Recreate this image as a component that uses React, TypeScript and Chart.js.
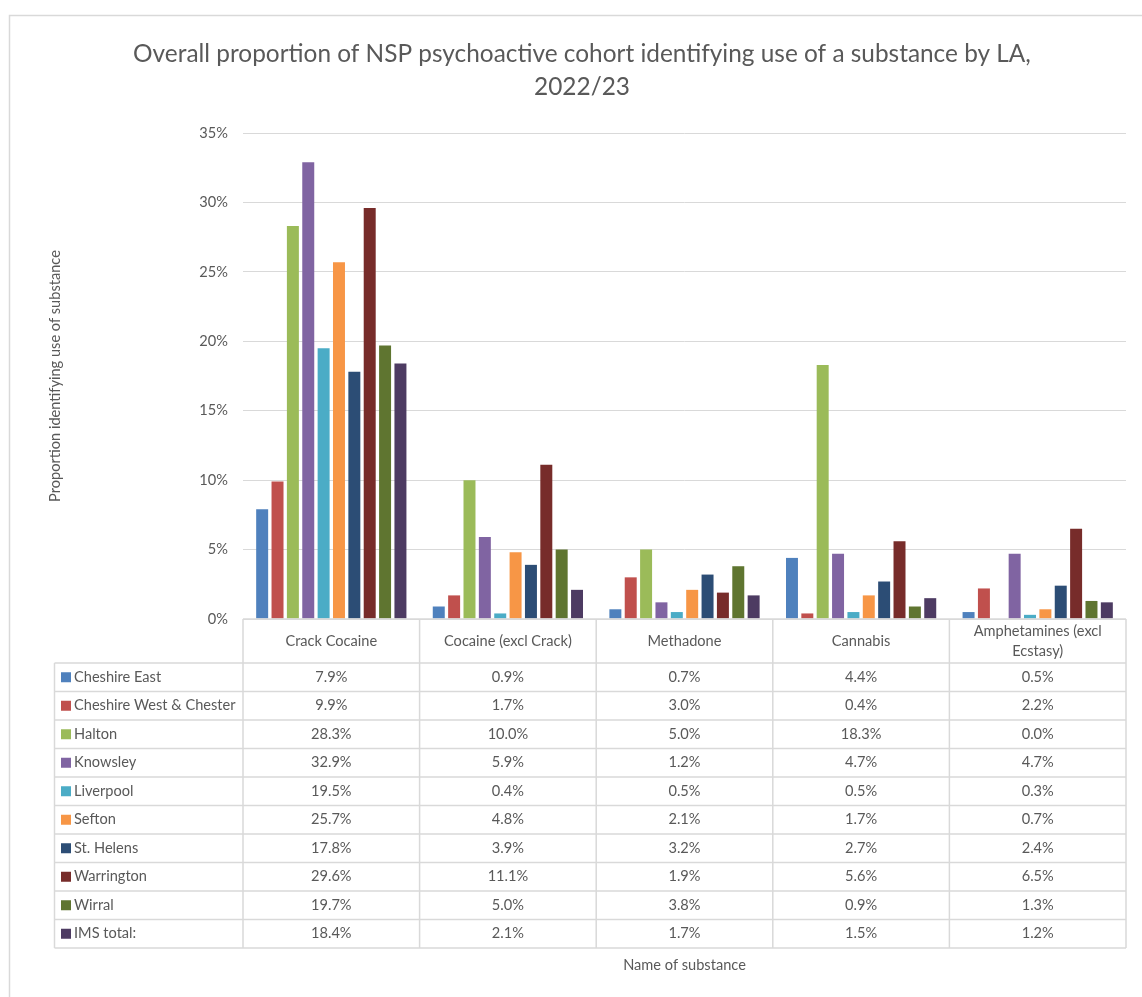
import React, { useEffect, useRef } from "react";
import { Chart, registerables } from "chart.js";

Chart.register(...registerables);

const titleLines = [
  "Overall proportion of NSP psychoactive cohort identifying use of a substance by LA,",
  "2022/23",
];
const categories = [
  "Crack Cocaine",
  "Cocaine (excl Crack)",
  "Methadone",
  "Cannabis",
  "Amphetamines (excl Ecstasy)",
];
const categoryHeaderLines = [
  ["Crack Cocaine"],
  ["Cocaine (excl Crack)"],
  ["Methadone"],
  ["Cannabis"],
  ["Amphetamines (excl", "Ecstasy)"],
];
const seriesNames = [
  "Cheshire East",
  "Cheshire West & Chester",
  "Halton",
  "Knowsley",
  "Liverpool",
  "Sefton",
  "St. Helens",
  "Warrington",
  "Wirral",
  "IMS total:",
];
const seriesColors = [
  "#4F81BD",
  "#C0504D",
  "#9BBB59",
  "#8064A2",
  "#4BACC6",
  "#F79646",
  "#2C4D75",
  "#772C2A",
  "#5F7530",
  "#4D3B62",
];
const cheshireEast = [7.9, 0.9, 0.7, 4.4, 0.5];
const cheshireWest = [9.9, 1.7, 3.0, 0.4, 2.2];
const halton = [28.3, 10.0, 5.0, 18.3, 0.0];
const knowsley = [32.9, 5.9, 1.2, 4.7, 4.7];
const liverpool = [19.5, 0.4, 0.5, 0.5, 0.3];
const sefton = [25.7, 4.8, 2.1, 1.7, 0.7];
const stHelens = [17.8, 3.9, 3.2, 2.7, 2.4];
const warrington = [29.6, 11.1, 1.9, 5.6, 6.5];
const wirral = [19.7, 5.0, 3.8, 0.9, 1.3];
const imsTotal = [18.4, 2.1, 1.7, 1.5, 1.2];
const seriesValues = [
  cheshireEast,
  cheshireWest,
  halton,
  knowsley,
  liverpool,
  sefton,
  stHelens,
  warrington,
  wirral,
  imsTotal,
];
const yMin = 0;
const yMax = 35;
const yStep = 5;
const yTitle = "Proportion identifying use of substance";
const xTitle = "Name of substance";

const FONT = "Lato, 'Open Sans', sans-serif";
const TEXT = "#595959";
const LINE = "#d9d9d9";
const SMALL = 14.6;

const decorPlugin = {
  id: "decor",
  beforeDraw(chart: any) {
    const ctx = chart.ctx;
    ctx.save();
    ctx.fillStyle = "#ffffff";
    ctx.fillRect(0, 0, chart.width, chart.height);
    // outer chart border
    ctx.strokeStyle = LINE;
    ctx.lineWidth = 1.5;
    ctx.beginPath();
    ctx.moveTo(9.5, chart.height + 5);
    ctx.lineTo(9.5, 15.5);
    ctx.lineTo(chart.width + 5, 15.5);
    ctx.stroke();
    // title
    ctx.fillStyle = TEXT;
    ctx.font = `24.4px ${FONT}`;
    ctx.textAlign = "center";
    ctx.textBaseline = "middle";
    titleLines.forEach((t, i) => ctx.fillText(t, 582, 54 + i * 33));
    ctx.restore();
  },
  afterDraw(chart: any) {
    const ctx = chart.ctx;
    const xs = chart.scales.x;
    const area = chart.chartArea;
    const n = categories.length;
    const catW = (area.right - area.left) / n;
    const top = area.bottom;
    const headerH = 44;
    const rowH = 28.5;
    const legendLeft = 54.5;
    const rows = seriesNames.length;
    const tableBottom = top + headerH + rows * rowH;
    ctx.save();
    ctx.strokeStyle = LINE;
    ctx.lineWidth = 1.5;
    const line = (x1: number, y1: number, x2: number, y2: number) => {
      ctx.beginPath();
      ctx.moveTo(x1, y1);
      ctx.lineTo(x2, y2);
      ctx.stroke();
    };
    line(area.left, top, area.right, top);
    for (let i = 0; i <= n; i++) {
      const xx = area.left + i * catW;
      line(xx, top, xx, tableBottom);
    }
    line(legendLeft, top + headerH, legendLeft, tableBottom);
    for (let r = 0; r <= rows; r++) {
      const y = top + headerH + r * rowH;
      line(legendLeft, y, area.right, y);
    }
    ctx.fillStyle = TEXT;
    ctx.font = `${SMALL}px ${FONT}`;
    ctx.textBaseline = "middle";
    ctx.textAlign = "center";
    for (let i = 0; i < n; i++) {
      const cx = xs.getPixelForValue(i);
      const hl = categoryHeaderLines[i];
      const midY = top + headerH / 2;
      hl.forEach((t, k) => {
        ctx.fillText(t, cx, midY + (k - (hl.length - 1) / 2) * 20);
      });
      for (let r = 0; r < rows; r++) {
        const cy = top + headerH + r * rowH + rowH / 2;
        ctx.fillText(seriesValues[r][i].toFixed(1) + "%", cx, cy);
      }
    }
    ctx.textAlign = "left";
    for (let r = 0; r < rows; r++) {
      const cy = top + headerH + r * rowH + rowH / 2;
      ctx.fillStyle = seriesColors[r];
      ctx.fillRect(61, cy - 5, 10, 10);
      ctx.fillStyle = TEXT;
      ctx.fillText(seriesNames[r], 74, cy);
    }
    ctx.textAlign = "center";
    ctx.fillText(xTitle, (area.left + area.right) / 2, 965);
    ctx.restore();
  },
};

export default function App() {
  const ref = useRef<HTMLCanvasElement | null>(null);
  useEffect(() => {
    if (!ref.current) return;
    const chart = new Chart(ref.current, {
      type: "bar",
      data: {
        labels: categories,
        datasets: seriesNames.map((name, i) => ({
          label: name,
          data: seriesValues[i],
          backgroundColor: seriesColors[i],
          borderWidth: 0,
          barPercentage: 0.78,
          categoryPercentage: 0.87,
        })),
      },
      options: {
        responsive: false,
        animation: false,
        devicePixelRatio: 1,
        layout: { padding: { top: 133, bottom: 378, left: 0, right: 16 } },
        plugins: {
          legend: { display: false },
          title: { display: false },
          tooltip: { enabled: false },
        },
        scales: {
          x: { display: false },
          y: {
            min: yMin,
            max: yMax,
            ticks: {
              stepSize: yStep,
              padding: 15,
              color: TEXT,
              font: { family: FONT, size: SMALL },
              callback: (v: any) => `${v}%`,
            },
            grid: { color: LINE, lineWidth: 1, drawTicks: false },
            border: { display: false },
            title: {
              display: true,
              text: yTitle,
              color: TEXT,
              font: { family: FONT, size: SMALL },
              padding: { top: 47, bottom: 0 },
            },
            afterFit: (scale: any) => {
              scale.width = 243;
            },
          },
        },
      },
      plugins: [decorPlugin],
    } as any);
    return () => chart.destroy();
  }, []);
  return (
    <div style={{ position: "fixed", left: 0, top: 0, width: 1142, height: 997 }}>
      <canvas ref={ref} width={1142} height={997} style={{ display: "block" }} />
    </div>
  );
}
